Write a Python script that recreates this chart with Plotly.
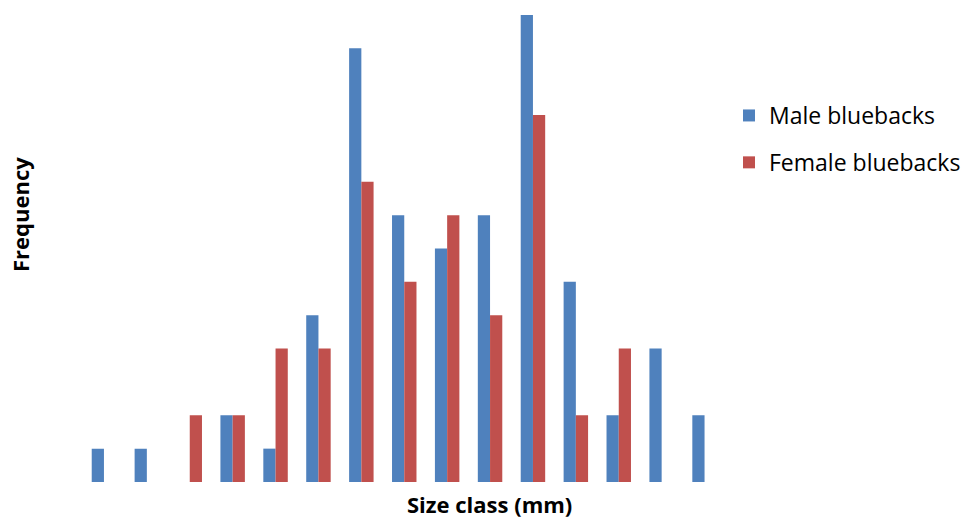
import plotly.graph_objects as go

categories = [str(i) for i in range(1, 16)]
male = [1, 1, 0, 2, 1, 5, 13, 8, 7, 8, 14, 6, 2, 4, 2]
female = [0, 0, 2, 2, 4, 4, 9, 6, 8, 5, 11, 2, 4, 0, 0]

W, H = 967, 523
L, R, T, B = 0, 0, 15, 41
pw = W - L - R
ph = H - T - B
plot_left, plot_right = 82.5, 726.0


def px(x):
    return (x - L) / pw


def py(y):
    return (H - B - y) / ph


fig = go.Figure()
fig.add_trace(go.Bar(x=categories, y=male, name="Male bluebacks",
                     marker=dict(color="#4F81BD", line=dict(width=0)),
                     legendgroup="m"))
fig.add_trace(go.Bar(x=categories, y=female, name="Female bluebacks",
                     marker=dict(color="#C0504D", line=dict(width=0)),
                     legendgroup="f"))

fig.update_layout(
    width=W, height=H,
    margin=dict(l=L, r=R, t=T, b=B, pad=0, autoexpand=False),
    paper_bgcolor="white", plot_bgcolor="white",
    barmode="group", bargap=0.43, bargroupgap=0,
    font=dict(family="Open Sans", color="#000000"),
    xaxis=dict(domain=[px(plot_left), px(plot_right)],
               showticklabels=False, showgrid=False, zeroline=False,
               showline=False, ticks="", range=[-0.5, 14.5]),
    yaxis=dict(showticklabels=False, showgrid=False, zeroline=False,
               showline=False, ticks="", range=[0, 14]),
    legend=dict(x=px(729), y=py(94), xanchor="left", yanchor="top",
                font=dict(size=23, family="Open Sans"), itemwidth=30,
                tracegroupgap=14, traceorder="grouped", bgcolor="rgba(0,0,0,0)"),
    showlegend=True,
    annotations=[
        dict(text="<b>Size class (mm)</b>", xref="paper", yref="paper",
             x=px(489), y=py(504), xanchor="center", yanchor="middle",
             showarrow=False, font=dict(size=22, family="Open Sans")),
        dict(text="<b>Frequency</b>", xref="paper", yref="paper",
             x=px(20), y=py(215), xanchor="center", yanchor="middle",
             textangle=-90, showarrow=False, font=dict(size=22, family="Open Sans")),
    ],
)

fig.write_html("out.html", config={"displayModeBar": False},
               post_script="document.body.style.margin='0';")
